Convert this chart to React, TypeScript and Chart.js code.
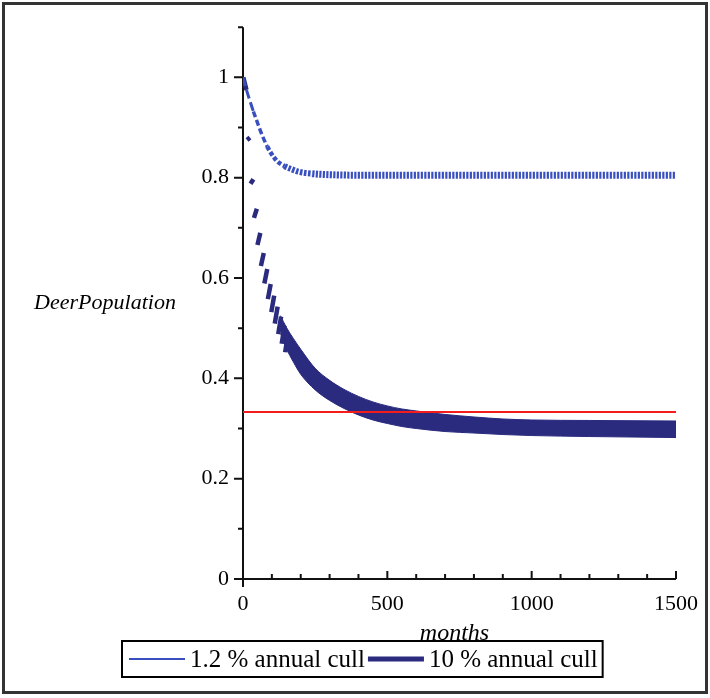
import React, { useEffect, useRef } from "react";
import { Chart, registerables } from "chart.js";

Chart.register(...registerables);

const FONT_FAMILY = '"Liberation Serif", "Times New Roman", Times, serif';

// ---- axes ----
const xRange = [0, 1500];
const yRange = [0, 1.1];
const xMajorTicks = [0, 500, 1000, 1500];
const xMinorTicks = [100, 200, 300, 400, 600, 700, 800, 900, 1100, 1200, 1300, 1400];
const yMajorTicks = [0, 0.2, 0.4, 0.6, 0.8, 1];
const yMinorTicks = [0.1, 0.3, 0.5, 0.7, 0.9, 1.1];
const xTitle = "months";
const yTitle = "DeerPopulation";
const seriesLabels = ["1.2 % annual cull", "10 % annual cull"];

// ---- 1.2 % annual cull (mid-line of the saw-tooth) ----
const cull12Months = [0, 12, 24, 36, 48, 60, 72, 84, 96, 108, 120, 144, 168, 192, 240, 300, 400, 600, 800, 1000, 1200, 1500];
const cull12Values = [1.0, 0.975, 0.953, 0.932, 0.913, 0.894, 0.877, 0.862, 0.85, 0.84, 0.832, 0.823, 0.817, 0.812, 0.808, 0.806, 0.805, 0.805, 0.805, 0.805, 0.805, 0.805];

// ---- 10 % annual cull: yearly strokes (after cull -> before next cull) ----
const cull10StrokeStartMonths = [1, 14, 26, 38, 50, 62, 74, 86, 98, 110, 122, 134, 146];
const cull10StrokeStartValues = [1.0, 0.875, 0.788, 0.72, 0.666, 0.624, 0.589, 0.558, 0.532, 0.509, 0.488, 0.469, 0.452];
const cull10StrokeEndMonths = [12, 24, 36, 48, 60, 72, 84, 96, 108, 120, 132, 144, 156];
const cull10StrokeEndValues = [0.975, 0.88, 0.797, 0.738, 0.69, 0.65, 0.618, 0.588, 0.565, 0.543, 0.523, 0.505, 0.489];

// ---- 10 % annual cull: later months, where the yearly strokes merge into a band ----
const cull10BandMonths = [130, 150, 175, 200, 250, 300, 350, 400, 450, 500, 550, 600, 700, 800, 900, 1000, 1200, 1500];
const cull10BandUpper = [0.525, 0.502, 0.479, 0.458, 0.42, 0.396, 0.378, 0.364, 0.353, 0.345, 0.339, 0.335, 0.328, 0.323, 0.319, 0.317, 0.316, 0.315];
const cull10BandLower = [0.49, 0.46, 0.432, 0.408, 0.377, 0.356, 0.34, 0.327, 0.317, 0.31, 0.304, 0.3, 0.294, 0.291, 0.288, 0.286, 0.284, 0.282];

// ---- reference line ----
const equilibriumValue = [0.333];

const COLOR_12 = "#3a4fbf";
const COLOR_10 = "#2a2a7e";
const COLOR_RED = "#f51c1c";
const AXIS_COLOR = "#111111";

function width12(m: number) {
  if (m < 36) return 3;
  if (m < 84) return 3.5;
  if (m < 144) return 4.5;
  if (m < 240) return 6;
  return 7;
}
function dash12(m: number) {
  if (m < 36) return [9, 4];
  if (m < 84) return [6, 3];
  if (m < 144) return [4, 2.2];
  if (m < 240) return [2.6, 1.5];
  return [2.2, 1.3];
}

export default function App() {
  const ref = useRef<HTMLCanvasElement>(null);

  useEffect(() => {
    const canvas = ref.current;
    if (!canvas) return;

    const strokeData: any[] = [];
    cull10StrokeStartMonths.forEach((m, i) => {
      strokeData.push({ x: m, y: cull10StrokeStartValues[i] });
      strokeData.push({ x: cull10StrokeEndMonths[i], y: cull10StrokeEndValues[i] });
      strokeData.push({ x: cull10StrokeEndMonths[i], y: null });
    });

    const decor = {
      id: "mapleDecor",
      beforeDraw(chart: any) {
        const { ctx, width, height } = chart;
        ctx.save();
        ctx.fillStyle = "#ffffff";
        ctx.fillRect(0, 0, width, height);
        ctx.restore();
      },
      beforeDatasetsDraw(chart: any) {
        const { ctx } = chart;
        const xs = chart.scales.x;
        const ys = chart.scales.y;
        const x0 = xs.getPixelForValue(xRange[0]);
        const x1 = xs.getPixelForValue(xRange[1]);
        const y0 = ys.getPixelForValue(yRange[0]);
        const y1 = ys.getPixelForValue(yRange[1]);
        ctx.save();
        ctx.strokeStyle = AXIS_COLOR;
        ctx.lineWidth = 2;
        ctx.beginPath();
        ctx.moveTo(x0, y1);
        ctx.lineTo(x0, y0 + 8);
        ctx.moveTo(x0, y0);
        ctx.lineTo(x1, y0);
        xMajorTicks.forEach((v) => {
          if (v === xRange[0]) return;
          const px = xs.getPixelForValue(v);
          ctx.moveTo(px, y0);
          ctx.lineTo(px, y0 - 8);
        });
        xMinorTicks.forEach((v) => {
          const px = xs.getPixelForValue(v);
          ctx.moveTo(px, y0);
          ctx.lineTo(px, y0 - 5);
        });
        yMajorTicks.forEach((v) => {
          const py = ys.getPixelForValue(v);
          ctx.moveTo(x0, py);
          ctx.lineTo(x0 - 9, py);
        });
        yMinorTicks.forEach((v) => {
          const py = ys.getPixelForValue(v);
          ctx.moveTo(x0, py);
          ctx.lineTo(x0 - 5, py);
        });
        ctx.stroke();
        ctx.restore();
      },
      afterDraw(chart: any) {
        const { ctx } = chart;
        const xs = chart.scales.x;
        const ys = chart.scales.y;
        const x0 = xs.getPixelForValue(xRange[0]);
        const x1 = xs.getPixelForValue(xRange[1]);
        const y0 = ys.getPixelForValue(yRange[0]);
        const y1 = ys.getPixelForValue(yRange[1]);
        ctx.save();
        // axis titles
        ctx.fillStyle = "#000";
        ctx.textAlign = "center";
        ctx.textBaseline = "middle";
        ctx.font = `italic 22px ${FONT_FAMILY}`;
        ctx.fillText(yTitle, 105, (y0 + y1) / 2);
        ctx.font = `italic 24px ${FONT_FAMILY}`;
        ctx.fillText(xTitle, (x0 + x1) / 2 - 5, 634);

        // legend
        ctx.font = `25px ${FONT_FAMILY}`;
        const w1 = ctx.measureText(seriesLabels[0]).width;
        const w2 = ctx.measureText(seriesLabels[1]).width;
        const lineLen = 56;
        const pad = 7;
        const totalW = pad + lineLen + 5 + w1 + 3 + lineLen + 5 + w2 + 5;
        const boxLeft = Math.round(362 - totalW / 2);
        const boxTop = 641;
        const boxH = 36;
        const midY = boxTop + boxH / 2;
        let cx = boxLeft + pad;
        ctx.lineCap = "butt";
        ctx.strokeStyle = COLOR_12;
        ctx.lineWidth = 2;
        ctx.beginPath();
        ctx.moveTo(cx, midY);
        ctx.lineTo(cx + lineLen, midY);
        ctx.stroke();
        cx += lineLen + 5;
        ctx.textAlign = "left";
        ctx.textBaseline = "middle";
        ctx.fillText(seriesLabels[0], cx, midY + 1);
        cx += w1 + 3;
        ctx.strokeStyle = COLOR_10;
        ctx.lineWidth = 5;
        ctx.beginPath();
        ctx.moveTo(cx, midY);
        ctx.lineTo(cx + lineLen, midY);
        ctx.stroke();
        cx += lineLen + 5;
        ctx.fillText(seriesLabels[1], cx, midY + 1);
        ctx.strokeStyle = "#000";
        ctx.lineWidth = 2;
        ctx.strokeRect(boxLeft, boxTop, totalW, boxH);

        // outer frame
        ctx.strokeStyle = "#333";
        ctx.lineWidth = 3;
        ctx.strokeRect(3.5, 3.5, 703, 689);
        ctx.restore();
      },
    };

    const tickFont = { family: FONT_FAMILY, size: 22 };

    const chart = new Chart(canvas, {
      type: "line",
      data: {
        datasets: [
          {
            label: "equilibrium",
            data: [
              { x: xRange[0], y: equilibriumValue[0] },
              { x: xRange[1], y: equilibriumValue[0] },
            ],
            borderColor: COLOR_RED,
            borderWidth: 2,
            pointRadius: 0,
          },
          {
            label: seriesLabels[0],
            data: cull12Months.map((m, i) => ({ x: m, y: cull12Values[i] })),
            borderColor: COLOR_12,
            borderWidth: 3,
            borderCapStyle: "butt",
            cubicInterpolationMode: "monotone",
            pointRadius: 0,
            segment: {
              borderWidth: (c: any) => width12(c.p0.parsed.x),
              borderDash: (c: any) => dash12(c.p0.parsed.x),
            },
          },
          {
            label: seriesLabels[1],
            data: strokeData,
            borderColor: COLOR_10,
            borderWidth: 4.5,
            borderCapStyle: "butt",
            spanGaps: false,
            pointRadius: 0,
          },
          {
            label: seriesLabels[1] + " upper",
            data: cull10BandMonths.map((m, i) => ({ x: m, y: cull10BandUpper[i] })),
            borderColor: COLOR_10,
            borderWidth: 1,
            backgroundColor: COLOR_10,
            fill: "+1",
            cubicInterpolationMode: "monotone",
            pointRadius: 0,
          },
          {
            label: seriesLabels[1] + " lower",
            data: cull10BandMonths.map((m, i) => ({ x: m, y: cull10BandLower[i] })),
            borderColor: COLOR_10,
            borderWidth: 1,
            fill: false,
            cubicInterpolationMode: "monotone",
            pointRadius: 0,
          },
        ] as any,
      },
      options: {
        animation: false,
        responsive: false,
        maintainAspectRatio: false,
        events: [],
        layout: { padding: { left: 0, right: 33, top: 17, bottom: 79 } },
        plugins: { legend: { display: false }, tooltip: { enabled: false }, filler: { propagate: false } },
        scales: {
          x: {
            type: "linear",
            min: xRange[0],
            max: xRange[1],
            grid: { display: false, drawTicks: false },
            border: { display: false },
            afterBuildTicks: (s: any) => {
              s.ticks = xMajorTicks.map((v) => ({ value: v }));
            },
            afterFit: (s: any) => {
              s.height = 40;
            },
            ticks: {
              font: tickFont,
              color: "#000",
              padding: 12,
              maxRotation: 0,
              autoSkip: false,
              callback: (v: any) => String(v),
            },
          },
          y: {
            type: "linear",
            min: yRange[0],
            max: yRange[1],
            grid: { display: false, drawTicks: false },
            border: { display: false },
            afterBuildTicks: (s: any) => {
              s.ticks = yMajorTicks.map((v) => ({ value: v }));
            },
            afterFit: (s: any) => {
              s.width = 243;
            },
            ticks: {
              font: tickFont,
              color: "#000",
              padding: 14,
              autoSkip: false,
              callback: (v: any) => String(v),
            },
          },
        },
      } as any,
      plugins: [decor],
    });

    return () => chart.destroy();
  }, []);

  return (
    <div style={{ position: "fixed", left: 0, top: 0, width: 710, height: 698, background: "#fff" }}>
      <canvas ref={ref} width={710} height={698} style={{ display: "block", width: 710, height: 698 }} />
    </div>
  );
}
